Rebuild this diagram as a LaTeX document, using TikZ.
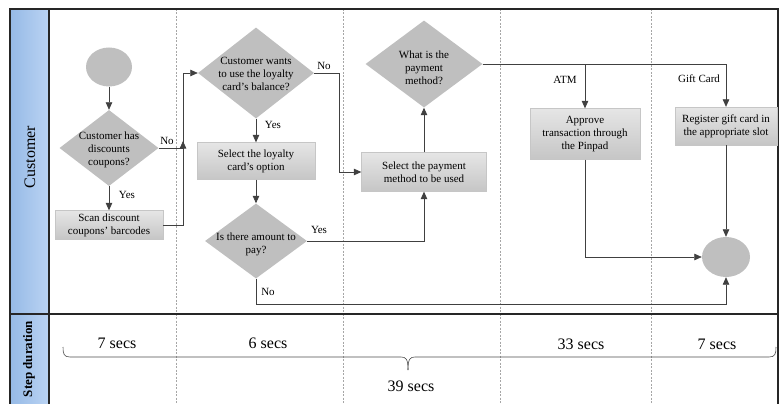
\documentclass[tikz,border=0pt]{standalone}
\usepackage{fontspec}
\setmainfont{Liberation Serif}
\usetikzlibrary{shapes.geometric,arrows.meta,calc}
\begin{document}
\begin{tikzpicture}[x=1pt,y=-1pt,
  conn/.style={draw=black!75, line width=0.7pt},
  arr/.style={conn, -{Triangle[width=6.5pt,length=7.5pt]}},
  dia/.style={diamond, fill=gray!50, draw=none, inner sep=0pt},
  box/.style={rectangle, top color=gray!20, bottom color=gray!45, draw=gray!45, line width=0.3pt, inner sep=0pt, align=center, font=\fontsize{11}{13}\selectfont},
  txt/.style={align=center, font=\fontsize{11}{13}\selectfont},
  lbl/.style={font=\fontsize{11}{13}\selectfont},
  big/.style={font=\fontsize{16}{18}\selectfont},
  term/.style={ellipse, fill=gray!50, inner sep=0pt},
  sep/.style={draw=gray!70, line width=0.6pt, dash pattern=on 2pt off 1.5pt},
  frame/.style={draw=black!85, line width=1.3pt},
  bracestyle/.style={draw=black!70, line width=0.6pt}
]
\useasboundingbox (0,0) rectangle (779,404);
% lane header column
\fill[left color={rgb,255:red,150;green,186;blue,230}, right color={rgb,255:red,186;green,211;blue,243}] (10,9) rectangle (49,404);
% dashed separators
\foreach \xx in {176,343,500,651} \draw[sep] (\xx,9) -- (\xx,404);
% frame
\draw[frame] (10,404) -- (10,9) -- (778,9) -- (778,404);
\draw[frame] (49,9) -- (49,404);
\draw[frame] (10,314) -- (778,314);
\node[big, rotate=90] (lcust) at (30,157) {Customer};
\node[font=\fontsize{13}{15}\selectfont\bfseries, rotate=90] (lstep) at (29,359) {Step duration};

% nodes
\node[term, minimum width=46pt, minimum height=39pt] (start) at (109,67) {};
\node[dia, minimum width=99pt, minimum height=76pt] (d1) at (109,148) {};
\node[txt] (t1) at (109,150) {Customer has\\discounts\\coupons?};
\node[box, minimum width=108pt, minimum height=29pt] (scan) at (109,225) {Scan discount\\coupons' barcodes};
\node[dia, minimum width=116pt, minimum height=91pt] (d2) at (256,73) {};
\node[txt] (t2) at (256,74) {Customer wants\\to use the loyalty\\card's balance?};
\node[box, minimum width=118pt, minimum height=37pt] (sel) at (256,161) {Select the loyalty\\card's option};
\node[dia, minimum width=102pt, minimum height=75pt] (d3) at (256,241) {};
\node[txt] (t3) at (256,244) {Is there amount to\\pay?};
\node[box, minimum width=125pt, minimum height=39pt] (pm) at (424,172) {Select the payment\\method to be used};
\node[dia, minimum width=117pt, minimum height=87pt] (d4) at (424,64) {};
\node[txt] (t4) at (424,68) {What is the\\payment\\method?};
\node[box, minimum width=110pt, minimum height=51pt] (app) at (585,134) {Approve\\transaction through\\the Pinpad};
\node[box, minimum width=102pt, minimum height=38pt] (reg) at (726,126) {Register gift card in\\the appropriate slot};
\node[term, minimum width=48pt, minimum height=40pt] (endc) at (726,257) {};

% helper coordinates
\coordinate (j1) at (183,141);
\coordinate (c1) at (183,73);
\coordinate (c2) at (339,73);
\coordinate (c3) at (256,304);

% connectors
\draw[arr] (start) -- (d1);
\draw[arr] (d1) -- (scan);
\draw[arr] (scan.east) -| (j1);
\draw[arr] (d1.east) -| (c1) -- (d2.west);
\draw[arr] (d2) -- (sel);
\draw[arr] (d2.east) -- (c2) |- (pm.west);
\draw[arr] (sel) -- (d3);
\draw[arr] (d3.east) -| (pm.south);
\draw[arr] (d3.south) -- (c3) -| (endc.south);
\draw[arr] (pm) -- (d4);
\draw[arr] (d4.east) -| (app.north);
\draw[arr] (d4.east) -| (reg.north);
\draw[arr] (app.south) |- (endc.west);
\draw[arr] (reg) -- (endc);

% labels
\node[lbl] (y1) at (127,195) {Yes};
\node[lbl] (n1) at (167,141) {No};
\node[lbl] (y2) at (273,125) {Yes};
\node[lbl] (n2) at (324,66) {No};
\node[lbl] (y3) at (319,230) {Yes};
\node[lbl] (n3) at (268,292) {No};
\node[lbl] (atm) at (565,80) {ATM};
\node[lbl] (gift) at (699,79) {Gift Card};

% durations
\node[big] (s1) at (117,343) {7 secs};
\node[big] (s2) at (268,343) {6 secs};
\node[big] (s3) at (581,344) {33 secs};
\node[big] (s4) at (717,344) {7 secs};
\coordinate (bl) at (63,347);
\coordinate (br) at (776,347);
\coordinate (bt) at (408,370);
\draw[bracestyle] (bl) .. controls (63,354) and (64,357) .. (70,357) -- (401,357)
  .. controls (406,357) and (408,359) .. (bt);
\draw[bracestyle] (br) .. controls (776,354) and (775,357) .. (769,357) -- (415,357)
  .. controls (410,357) and (408,359) .. (bt);
\node[big] (tot) at (411,386) {39 secs};
\end{tikzpicture}
\end{document}
